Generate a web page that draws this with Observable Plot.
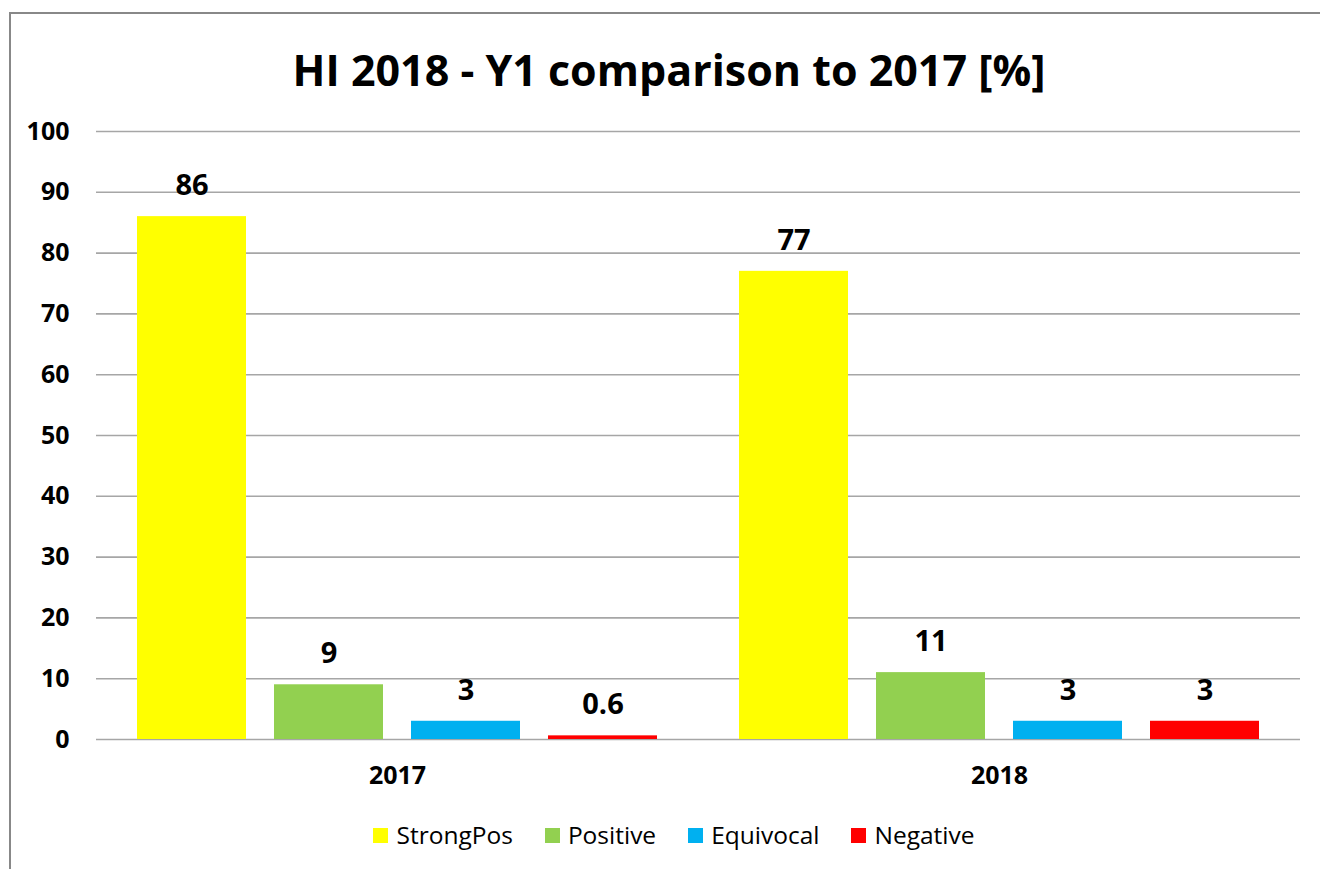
<!DOCTYPE html>
<html>
<head>
<meta charset="utf-8">
<script src="https://cdn.jsdelivr.net/npm/d3@7"></script>
<script src="https://cdn.jsdelivr.net/npm/@observablehq/plot@0.6"></script>
<style>
  html, body { margin: 0; padding: 0; background: #fff; overflow: hidden; }
  #wrap { position: relative; width: 1320px; height: 869px; overflow: hidden; font-family: "Open Sans", sans-serif; }
  #frame { position: absolute; left: 9px; top: 12px; width: 1320px; height: 870px; border-left: 2px solid #888; border-top: 2px solid #888; }
  #title { position: absolute; left: 0; top: 40px; width: 1338px; text-align: center; font-size: 43px; font-weight: bold; color: #000; line-height: 60px; }
  #chart { position: absolute; left: 0; top: 110px; }
  #legend { position: absolute; left: 0; top: 818px; width: 1348px; display: flex; justify-content: center; font-size: 24.5px; color: #000; line-height: 34px; }
  .item { display: flex; align-items: center; margin: 0 16px; }
  .sw { width: 15px; height: 15px; margin-right: 8px; }
</style>
</head>
<body>
<div id="wrap">
  <div id="frame"></div>
  <div id="title">HI 2018 - Y1 comparison to 2017 [%]</div>
  <div id="chart"></div>
  <div id="legend"></div>
</div>
<script>
const years = ["2017", "2018"];
const categories = ["StrongPos", "Positive", "Equivocal", "Negative"];
const colors = ["#FFFF00", "#92D050", "#00B0F0", "#FF0000"];
const values2017 = [86, 9, 3, 0.6];
const values2018 = [77, 11, 3, 3];
const yTicks = [0, 10, 20, 30, 40, 50, 60, 70, 80, 90, 100];

const seriesByYear = {"2017": values2017, "2018": values2018};
const data = [];
for (const yr of years) {
  categories.forEach((c, i) => data.push({year: yr, cat: c, value: seriesByYear[yr][i]}));
}

const chart = Plot.plot({
  width: 1320,
  height: 689,
  marginTop: 21,
  marginBottom: 60,
  marginLeft: 96,
  marginRight: 20,
  style: {fontFamily: "'Open Sans', sans-serif", fontSize: "25px", fontWeight: "bold", color: "#000", background: "transparent"},
  fx: {domain: years, padding: 0, label: null, axis: "bottom", tickSize: 0, tickPadding: 27},
  x: {domain: categories, paddingInner: 0.204, paddingOuter: 0.299, axis: null},
  y: {domain: [0, 100], ticks: yTicks, tickSize: 0, tickPadding: 27, label: null},
  color: {domain: categories, range: colors},
  marks: [
    Plot.ruleY(yTicks, {stroke: "#a6a6a6", strokeWidth: 1.6, strokeOpacity: 1}),
    Plot.barY(data, {fx: "year", x: "cat", y: "value", fill: "cat"}),
    Plot.text(data, {fx: "year", x: "cat", y: "value", text: d => String(d.value), dy: -31, fontSize: 29, fontWeight: "bold", fill: "#000"})
  ]
});
document.getElementById("chart").appendChild(chart);

const legend = document.getElementById("legend");
categories.forEach((c, i) => {
  const item = document.createElement("div");
  item.className = "item";
  const sw = document.createElement("div");
  sw.className = "sw";
  sw.style.background = colors[i];
  const t = document.createElement("span");
  t.textContent = c;
  item.appendChild(sw);
  item.appendChild(t);
  legend.appendChild(item);
});
</script>
</body>
</html>
